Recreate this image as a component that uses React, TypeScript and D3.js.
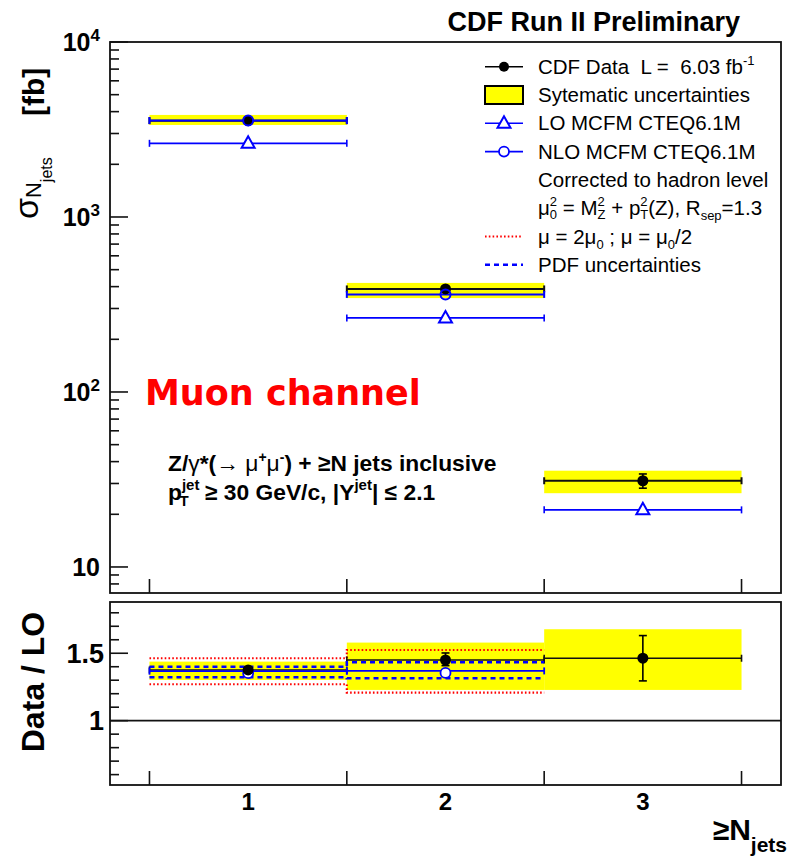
import React from 'react';
import * as d3 from 'd3';

const W = 792;
const H = 861;
const FONT = "'Liberation Sans', Arial, Helvetica, sans-serif";
const BLUE = '#0000ff';
const YELLOW = '#ffff00';
const RED = '#ff0000';
const NB = '\u00A0';

// ---- cross sections [fb] per inclusive jet multiplicity ----
const nJets = [1, 2, 3];
const xsData = [3550, 388, 31.1];
const xsStatLo = [3515, 383, 28.2];
const xsStatHi = [3585, 393, 34.0];
const xsSysLo = [3357, 344, 26.4];
const xsSysHi = [3830, 420, 35.5];
const xsLO = [2636, 265, 21.2];
const xsNLO = [3560, 361];

// ---- ratios to LO ----
const ratioData = [1.376, 1.45, 1.463];
const ratioStatLo = [1.366, 1.408, 1.295];
const ratioStatHi = [1.386, 1.502, 1.631];
const ratioSysLo = [1.302, 1.228, 1.228];
const ratioSysHi = [1.438, 1.579, 1.678];
const nloOverLo = [1.367, 1.369];
const scaleLo = [1.27, 1.208];
const scaleHi = [1.463, 1.524];
const pdfLo = [1.322, 1.315];
const pdfHi = [1.4, 1.433];

const topTickLabels = [
  { v: 10, base: '10', exp: '' },
  { v: 100, base: '10', exp: '2' },
  { v: 1000, base: '10', exp: '3' },
  { v: 10000, base: '10', exp: '4' },
];
const ratioTickLabels = [
  { v: 1, label: '1' },
  { v: 1.5, label: '1.5' },
];

const x = d3.scaleLinear().domain([0.3, 3.7]).range([110, 781]);
const yTop = d3.scaleLog().domain([7.1, 1e4]).range([593, 42]);
const yBot = d3.scaleLinear().domain([0.523, 1.88]).range([785, 602]);

function stepPath(vals: number[], y: (v: number) => number) {
  let p = '';
  vals.forEach((v, i) => {
    const n = nJets[i];
    p += (i === 0 ? `M${x(n - 0.5)},${y(v)}` : `V${y(v)}`) + `H${x(n + 0.5)}`;
  });
  return p;
}

function HBar({ n, yv, color, w = 2 }: { n: number; yv: number; color: string; w?: number }) {
  const x0 = x(n - 0.5);
  const x1 = x(n + 0.5);
  return (
    <g stroke={color} strokeWidth={w}>
      <line x1={x0} x2={x1} y1={yv} y2={yv} />
      <line x1={x0} x2={x0} y1={yv - 3.5} y2={yv + 3.5} />
      <line x1={x1} x2={x1} y1={yv - 3.5} y2={yv + 3.5} />
    </g>
  );
}

function VErr({ cx, y0, y1 }: { cx: number; y0: number; y1: number }) {
  return (
    <g stroke="#000" strokeWidth={1.6}>
      <line x1={cx} x2={cx} y1={y0} y2={y1} />
      <line x1={cx - 4} x2={cx + 4} y1={y0} y2={y0} />
      <line x1={cx - 4} x2={cx + 4} y1={y1} y2={y1} />
    </g>
  );
}

function Triangle({ cx, cy }: { cx: number; cy: number }) {
  return (
    <polygon
      points={`${cx},${cy - 7} ${cx - 6.5},${cy + 4.5} ${cx + 6.5},${cy + 4.5}`}
      fill="#fff"
      stroke={BLUE}
      strokeWidth={2}
    />
  );
}

function Frame({ y0, y1 }: { y0: number; y1: number }) {
  return (
    <rect x={110} y={y0} width={671} height={y1 - y0} fill="none" stroke="#111" strokeWidth={1.8} />
  );
}

export default function App() {
  // left-axis ticks of the cross-section panel
  const topTicks: { v: number; major: boolean }[] = [];
  for (let d = 0; d <= 4; d++) {
    for (let k = 1; k <= 9; k++) {
      const v = k * Math.pow(10, d);
      if (v >= 7.1 && v <= 1e4) topTicks.push({ v, major: k === 1 });
    }
  }
  const botTicks = d3.range(6, 19).map((i) => i / 10);
  const binEdges = [0.5, 1.5, 2.5, 3.5];

  const legendX = 538;
  const legendY0 = 66.7;
  const legendDy = 28.3;
  const ly = (i: number) => legendY0 + i * legendDy;
  const symX0 = 485;
  const symX1 = 523;
  const symXc = 504;

  return (
    <svg
      width={W}
      height={H}
      style={{ position: 'absolute', left: 0, top: 0, background: '#fff' }}
      fontFamily={FONT}
    >
      <rect width={W} height={H} fill="#fff" />

      {/* title */}
      <text x={740} y={31} textAnchor="end" fontSize={27} fontWeight="bold">
        CDF Run II Preliminary
      </text>

      {/* ================= cross-section panel ================= */}
      {nJets.map((n, i) => (
        <rect
          key={`sys${n}`}
          x={x(n - 0.5)}
          width={x(n + 0.5) - x(n - 0.5)}
          y={yTop(xsSysHi[i])}
          height={yTop(xsSysLo[i]) - yTop(xsSysHi[i])}
          fill={YELLOW}
        />
      ))}
      {nJets.map((n, i) => (
        <HBar key={`dl${n}`} n={n} yv={yTop(xsData[i])} color="#111" />
      ))}
      {xsNLO.map((v, i) => (
        <HBar key={`nl${i}`} n={nJets[i]} yv={yTop(v)} color={BLUE} />
      ))}
      {xsLO.map((v, i) => (
        <g key={`lo${i}`}>
          <HBar n={nJets[i]} yv={yTop(v)} color={BLUE} w={1.6} />
          <Triangle cx={x(nJets[i])} cy={yTop(v)} />
        </g>
      ))}
      {nJets.map((n, i) => (
        <g key={`dp${n}`}>
          <VErr cx={x(n)} y0={yTop(xsStatHi[i])} y1={yTop(xsStatLo[i])} />
          <circle cx={x(n)} cy={yTop(xsData[i])} r={5.5} fill="#000" />
        </g>
      ))}
      {xsNLO.map((v, i) => (
        <circle key={`nc${i}`} cx={x(nJets[i])} cy={yTop(v)} r={5} fill="none" stroke={BLUE} strokeWidth={2} />
      ))}

      <Frame y0={42} y1={593} />
      {topTicks.map((t) => (
        <line
          key={`tt${t.v}`}
          x1={110}
          x2={110 + (t.major ? 18 : 9)}
          y1={yTop(t.v)}
          y2={yTop(t.v)}
          stroke="#111"
          strokeWidth={1.6}
        />
      ))}
      {binEdges.map((b) => (
        <line key={`tx${b}`} x1={x(b)} x2={x(b)} y1={593} y2={579} stroke="#111" strokeWidth={1.6} />
      ))}
      {topTickLabels.map((t) => (
        <text key={`tl${t.v}`} x={100} y={yTop(t.v) + 9} textAnchor="end" fontSize={25} fontWeight="bold">
          {t.base}
          {t.exp && (
            <tspan fontSize={17} dy={-10}>
              {t.exp}
            </tspan>
          )}
        </text>
      ))}

      {/* y title of the cross-section panel */}
      <g transform="translate(44,116) rotate(-90)">
        <text x={0} y={0} fontSize={30} fontWeight="bold">
          [fb]
        </text>
      </g>
      <g transform="translate(38,219) rotate(-90)">
        <text x={0} y={0} fontSize={34}>
          σ
          <tspan fontSize={22} dy={3}>N</tspan>
          <tspan fontSize={16} dy={11}>jets</tspan>
        </text>
      </g>

      {/* legend */}
      <line x1={symX0} x2={symX1} y1={ly(0)} y2={ly(0)} stroke="#000" strokeWidth={1.6} />
      <circle cx={symXc} cy={ly(0)} r={5} fill="#000" />
      <rect x={symX0} y={ly(1) - 9} width={symX1 - symX0} height={18} fill={YELLOW} stroke="#000" strokeWidth={2} />
      <line x1={symX0} x2={symX1} y1={ly(2)} y2={ly(2)} stroke={BLUE} strokeWidth={1.6} />
      <Triangle cx={symXc} cy={ly(2)} />
      <line x1={symX0} x2={symX1} y1={ly(3)} y2={ly(3)} stroke={BLUE} strokeWidth={1.6} />
      <circle cx={symXc} cy={ly(3)} r={5} fill="#fff" stroke={BLUE} strokeWidth={1.8} />
      <line x1={symX0} x2={symX1} y1={ly(6)} y2={ly(6)} stroke={RED} strokeWidth={2.2} strokeDasharray="1.6 2.2" />
      <line x1={symX0} x2={symX1} y1={ly(7)} y2={ly(7)} stroke={BLUE} strokeWidth={2.4} strokeDasharray="5 4" />

      <g fontSize={20.5}>
        <text x={legendX} y={ly(0) + 7}>
          {`CDF Data${NB} L =${NB} 6.03 fb`}
          <tspan fontSize={13} dy={-9}>-1</tspan>
        </text>
        <text x={legendX} y={ly(1) + 7}>Sytematic uncertainties</text>
        <text x={legendX} y={ly(2) + 7}>LO MCFM CTEQ6.1M</text>
        <text x={legendX} y={ly(3) + 7}>NLO MCFM CTEQ6.1M</text>
        <text x={legendX} y={ly(4) + 7}>Corrected to hadron level</text>
        <text x={legendX} y={ly(5) + 7}>
          μ<tspan fontSize={13} dy={-9}>2</tspan>
          <tspan fontSize={13} dx={-7.2} dy={13}>0</tspan>
          <tspan fontSize={20.5} dy={-4}>{`${NB}= M`}</tspan>
          <tspan fontSize={13} dy={-9}>2</tspan>
          <tspan fontSize={13} dx={-7.2} dy={13}>Z</tspan>
          <tspan fontSize={20.5} dy={-4}>{`${NB}+ p`}</tspan>
          <tspan fontSize={13} dy={-9}>2</tspan>
          <tspan fontSize={13} dx={-7.2} dy={13}>T</tspan>
          <tspan fontSize={20.5} dy={-4}>{'(Z), R'}</tspan>
          <tspan fontSize={13} dy={5}>sep</tspan>
          <tspan fontSize={20.5} dy={-5}>=1.3</tspan>
        </text>
        <text x={legendX} y={ly(6) + 7}>
          {'μ = 2μ'}
          <tspan fontSize={13} dy={5}>0</tspan>
          <tspan dy={-5}>{`${NB};${NB}μ = μ`}</tspan>
          <tspan fontSize={13} dy={5}>0</tspan>
          <tspan dy={-5}>/2</tspan>
        </text>
        <text x={legendX} y={ly(7) + 7}>PDF uncertainties</text>
      </g>

      {/* channel label and selection */}
      <text x={145} y={405} fill={RED} fontSize={35} fontWeight="bold" fontFamily="'DejaVu Sans', Verdana, sans-serif">
        Muon channel
      </text>
      <g fontSize={22.8} fontWeight="bold">
        <text x={168} y={471}>
          {'Z/'}
          <tspan fontWeight="normal">γ</tspan>
          <tspan>{'*('}</tspan>
          <tspan fontWeight="normal">{`→${NB}μ`}</tspan>
          <tspan fontSize={14} dy={-9}>+</tspan>
          <tspan fontWeight="normal" dy={9}>μ</tspan>
          <tspan fontSize={14} dy={-9}>-</tspan>
          <tspan dy={9}>{`)${NB}+ ≥N jets inclusive`}</tspan>
        </text>
        <text x={168} y={500}>
          p<tspan fontSize={15} dy={-10}>jet</tspan>
          <tspan fontSize={15} dx={-20} dy={16}>T</tspan>
          <tspan dx={10} dy={-6}>{`${NB}≥ 30 GeV/c, |Y`}</tspan>
          <tspan fontSize={15} dy={-10}>jet</tspan>
          <tspan dy={10}>{`|${NB}≤ 2.1`}</tspan>
        </text>
      </g>

      {/* ================= ratio panel ================= */}
      {nJets.map((n, i) => (
        <rect
          key={`rsys${n}`}
          x={x(n - 0.5)}
          width={x(n + 0.5) - x(n - 0.5)}
          y={yBot(ratioSysHi[i])}
          height={yBot(ratioSysLo[i]) - yBot(ratioSysHi[i])}
          fill={YELLOW}
        />
      ))}
      <line x1={110} x2={781} y1={yBot(1)} y2={yBot(1)} stroke="#111" strokeWidth={1.6} />
      <path d={stepPath(scaleHi, yBot)} fill="none" stroke={RED} strokeWidth={2.2} strokeDasharray="1.6 2.2" />
      <path d={stepPath(scaleLo, yBot)} fill="none" stroke={RED} strokeWidth={2.2} strokeDasharray="1.6 2.2" />
      {nJets.map((n, i) => (
        <HBar key={`rdl${n}`} n={n} yv={yBot(ratioData[i])} color="#111" w={1.6} />
      ))}
      <path d={stepPath(pdfHi, yBot)} fill="none" stroke={BLUE} strokeWidth={2.6} strokeDasharray="5 4" />
      <path d={stepPath(pdfLo, yBot)} fill="none" stroke={BLUE} strokeWidth={2.6} strokeDasharray="5 4" />
      {nloOverLo.map((v, i) => (
        <g key={`rn${i}`}>
          <HBar n={nJets[i]} yv={yBot(v)} color={BLUE} w={1.8} />
          <circle cx={x(nJets[i])} cy={yBot(v) + 2} r={5} fill="#fff" stroke={BLUE} strokeWidth={1.8} />
        </g>
      ))}
      {nJets.map((n, i) => (
        <g key={`rdp${n}`}>
          <VErr cx={x(n)} y0={yBot(ratioStatHi[i])} y1={yBot(ratioStatLo[i])} />
          <circle cx={x(n)} cy={yBot(ratioData[i])} r={5.5} fill="#000" />
        </g>
      ))}

      <Frame y0={602} y1={785} />
      {botTicks.map((v) => (
        <line
          key={`bt${v}`}
          x1={110}
          x2={110 + (Math.abs(v - 1.5) < 1e-6 || Math.abs(v - 1) < 1e-6 ? 18 : 9)}
          y1={yBot(v)}
          y2={yBot(v)}
          stroke="#111"
          strokeWidth={1.6}
        />
      ))}
      {binEdges.map((b) => (
        <line key={`bx${b}`} x1={x(b)} x2={x(b)} y1={785} y2={771} stroke="#111" strokeWidth={1.6} />
      ))}
      {ratioTickLabels.map((t) => (
        <text key={`bl${t.v}`} x={104} y={yBot(t.v) + 9.5} textAnchor="end" fontSize={27} fontWeight="bold">
          {t.label}
        </text>
      ))}
      {nJets.map((n) => (
        <text key={`xl${n}`} x={x(n)} y={810} textAnchor="middle" fontSize={24} fontWeight="bold">
          {n}
        </text>
      ))}
      <text x={787} y={840} textAnchor="end" fontSize={30} fontWeight="bold">
        ≥N<tspan fontSize={21} dy={12}>jets</tspan>
      </text>
      <g transform="translate(44,682) rotate(-90)">
        <text x={0} y={0} textAnchor="middle" fontSize={32} fontWeight="bold">
          Data / LO
        </text>
      </g>
    </svg>
  );
}
